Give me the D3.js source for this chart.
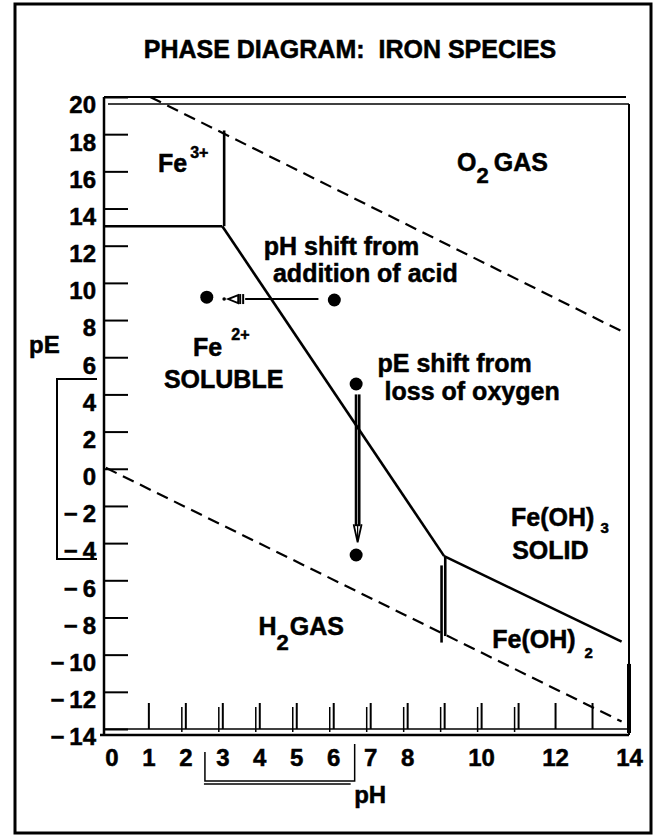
<!DOCTYPE html>
<html>
<head>
<meta charset="utf-8">
<script src="https://cdn.jsdelivr.net/npm/d3@7"></script>
<style>
  html, body { margin: 0; padding: 0; background: #fff; }
  svg { display: block; }
  text { font-family: "Liberation Sans", Arial, Helvetica, sans-serif; font-weight: bold; fill: #000;
         stroke: #000; stroke-width: 0.5px; }
</style>
</head>
<body>
<svg id="chart"></svg>
<script>
const WIDTH = 654;
const HEIGHT = 837;

// axis ticks and labels
const pETicks = d3.range(-14, 21, 2);
const pHTickMarks = d3.range(1, 14);
const pHDoubleTicks = d3.range(2, 12);
const pHLabels = [0, 1, 2, 3, 4, 5, 6, 7, 8, 10, 12, 14];

// phase boundaries, [pH, pE] pairs
const o2Line = [[1.05, 20], [13.8, 7.4]];
const h2Line = [[-0.15, 0.05], [13.8, -13.6]];
const fe3Horizontal = [[-0.2, 13.05], [3.0, 13.05]];
const fe3Vertical = [[3.05, 18.2], [3.05, 13.05]];
const fe2Diagonal = [[3.0, 13.05], [9.0, -4.7]];
const hydroxideLine = [[9.0, -4.7], [13.8, -9.3]];
const fe2VerticalA = [[8.93, -5.2], [8.93, -9.35]];
const fe2VerticalB = [[9.03, -4.7], [9.03, -9.0]];

// shift examples
const shiftPoints = [[6.03, 9.08], [2.58, 9.23], [6.62, 4.56], [6.62, -4.64]];
const pHShift = { from: [5.6, 9.13], to: [3.05, 9.13] };
const pEShift = { from: [6.66, 4.0], to: [6.66, -3.95] };
const pEBracket = [4.83, -4.85];
const pHBracket = [2.53, 6.58];

// region labels: anchor [pH, pE], main text, small script
const regionLabels = [
  { id: "fe3", pH: 1.26, pE: 15.97, text: "Fe", script: "3+" },
  { id: "o2", pH: 9.35, pE: 16.0, text: "O", script: "2", tail: "GAS" },
  { id: "acid1", pH: 4.12, pE: 11.5, text: "pH shift from" },
  { id: "acid2", pH: 4.37, pE: 10.05, text: "addition of acid" },
  { id: "fe2", pH: 2.21, pE: 6.07, text: "Fe", script: "2+" },
  { id: "sol", pH: 1.42, pE: 4.35, text: "SOLUBLE" },
  { id: "ox1", pH: 7.2, pE: 5.21, text: "pE shift from" },
  { id: "ox2", pH: 7.39, pE: 3.7, text: "loss of oxygen" },
  { id: "oh3", pH: 10.81, pE: -3.08, text: "Fe(OH)", script: "3" },
  { id: "solid", pH: 10.84, pE: -4.85, text: "SOLID" },
  { id: "h2", pH: 3.98, pE: -8.94, text: "H", script: "2", tail: "GAS" },
  { id: "oh2", pH: 10.3, pE: -9.64, text: "Fe(OH)", script: "2" }
];

// script offsets (size, dx, dy) per label, and gap before the tail text
const SCRIPT_STYLE = {
  fe3: [16, 3, -14], o2: [22, 0, 12], fe2: [16, 9, -16],
  oh3: [15, 6, 7], h2: [22, 0, 15], oh2: [15, 9, 10]
};
const TAIL_GAP = { o2: 5, h2: 1 };

const svg = d3.select("#chart").attr("width", WIDTH).attr("height", HEIGHT);
svg.append("rect").attr("width", WIDTH).attr("height", HEIGHT).attr("fill", "#fff");

const x = d3.scaleLinear().domain([-0.2, 14]).range([104, 629]);
const y = d3.scaleLinear().domain([-14, 20]).range([729, 97]);
const line = d3.line().x(d => x(d[0])).y(d => y(d[1]));

// outer frame
svg.append("rect").attr("x", 15).attr("y", 4).attr("width", 636).attr("height", 829)
  .attr("fill", "none").attr("stroke", "#000").attr("stroke-width", 3);

// title
svg.append("text").attr("x", 350).attr("y", 58).attr("text-anchor", "middle")
  .style("font-size", "25px").style("white-space", "pre")
  .text("PHASE DIAGRAM:  IRON SPECIES");

// plot frame
const x0 = x(-0.2), x1 = x(14), yTop = y(20), yBot = y(-14);
const frame = svg.append("g").attr("stroke", "#000").attr("fill", "none");
frame.append("line").attr("x1", x0).attr("x2", x1 - 3).attr("y1", yTop).attr("y2", yTop).attr("stroke-width", 2);
frame.append("line").attr("x1", x0 + 4).attr("x2", x1).attr("y1", yTop + 7).attr("y2", yTop + 7).attr("stroke-width", 1.5);
frame.append("line").attr("x1", x1).attr("x2", x1).attr("y1", yTop + 7).attr("y2", yBot + 6).attr("stroke-width", 2);
frame.append("line").attr("x1", x1).attr("x2", x1).attr("y1", y(-10.5)).attr("y2", yBot + 4).attr("stroke-width", 4);
frame.append("line").attr("x1", x0).attr("x2", x0).attr("y1", yTop).attr("y2", yBot + 6).attr("stroke-width", 2.5);
frame.append("line").attr("x1", x0).attr("x2", x1).attr("y1", yBot).attr("y2", yBot).attr("stroke-width", 1.5);
frame.append("line").attr("x1", x0 - 4).attr("x2", x1).attr("y1", yBot + 6).attr("y2", yBot + 6).attr("stroke-width", 2.5);

// y axis: ticks point inward, labels outside
const fmt = d => d < 0 ? "\u2212\u2009" + Math.abs(d) : String(d);
const yAxis = svg.append("g").attr("transform", `translate(${x0},0)`)
  .call(d3.axisLeft(y).tickValues(pETicks).tickSizeInner(-24).tickSizeOuter(0).tickPadding(8).tickFormat(fmt));
yAxis.select(".domain").remove();
yAxis.selectAll("line").attr("stroke", "#000").attr("stroke-width", 2);
yAxis.selectAll("text").attr("dy", "0.66em").style("font-size", "24px")
  .attr("font-family", null).attr("fill", "#000");

// x axis: tick marks upward
const xTicks = svg.append("g").attr("transform", `translate(0,${yBot})`)
  .call(d3.axisBottom(x).tickValues(pHTickMarks).tickSizeInner(-26).tickSizeOuter(0).tickFormat(""));
xTicks.select(".domain").remove();
xTicks.selectAll("line").attr("stroke", "#000").attr("stroke-width", 2);
svg.append("g").selectAll("line").data(pHDoubleTicks).join("line")
  .attr("x1", d => x(d) - 3.5).attr("x2", d => x(d) - 3.5)
  .attr("y1", yBot + 3).attr("y2", yBot - 22)
  .attr("stroke", "#000").attr("stroke-width", 1.5);

const xLabels = svg.append("g").attr("transform", `translate(0,${yBot})`)
  .call(d3.axisBottom(x).tickValues(pHLabels).tickSize(0).tickPadding(20).tickFormat(d => d));
xLabels.select(".domain").remove();
xLabels.selectAll("text").style("font-size", "24px").attr("font-family", null).attr("fill", "#000");

// axis titles
svg.append("text").attr("x", 29).attr("y", 353).style("font-size", "24px").text("pE");
svg.append("text").attr("x", x(7)).attr("y", 803).attr("text-anchor", "middle").style("font-size", "24px").text("pH");

// brackets marking the shifts on the axes
svg.append("path")
  .attr("d", `M97,${y(pEBracket[0])}H57V${y(pEBracket[1])}H97`)
  .attr("fill", "none").attr("stroke", "#000").attr("stroke-width", 2);
const bx0 = x(pHBracket[0]), bx1 = x(pHBracket[1]);
svg.append("path")
  .attr("d", `M${bx0},752V781H${bx1}V744M${bx0 - 1},784H${bx1 - 4}`)
  .attr("fill", "none").attr("stroke", "#000").attr("stroke-width", 1.5);

// boundaries
const bounds = svg.append("g").attr("fill", "none").attr("stroke", "#000");
[o2Line, h2Line].forEach(l => bounds.append("path").attr("d", line(l))
  .attr("stroke-width", 2.2).attr("stroke-dasharray", "12,7"));
[fe3Horizontal, fe3Vertical, fe2Diagonal, hydroxideLine, fe2VerticalA, fe2VerticalB]
  .forEach(l => bounds.append("path").attr("d", line(l)).attr("stroke-width", 2.6));

// shift points
svg.append("g").selectAll("circle").data(shiftPoints).join("circle")
  .attr("cx", d => x(d[0])).attr("cy", d => y(d[1])).attr("r", 6.5).attr("fill", "#000");

// pH shift arrow (pointing left)
const ha = svg.append("g").attr("stroke", "#000").attr("fill", "none");
const hy = y(pHShift.to[1]), tipX = x(pHShift.to[0]);
ha.append("line").attr("x1", x(pHShift.from[0])).attr("x2", tipX + 21).attr("y1", hy).attr("y2", hy).attr("stroke-width", 2);
[19, 16].forEach(o => ha.append("line").attr("x1", tipX + o).attr("x2", tipX + o)
  .attr("y1", hy - 5).attr("y2", hy + 5).attr("stroke-width", 2));
ha.append("path").attr("d", `M${tipX + 14},${hy - 4}L${tipX + 4},${hy}L${tipX + 14},${hy + 4}Z`).attr("stroke-width", 1.8);
ha.append("circle").attr("cx", tipX).attr("cy", hy).attr("r", 1.8).attr("fill", "#000").attr("stroke", "none");

// pE shift arrow (pointing down), heavy double shaft
const va = svg.append("g").attr("stroke", "#000").attr("fill", "none");
const vx = x(pEShift.from[0]), tipY = y(pEShift.to[1]);
[-1.6, 1.6].forEach(o => va.append("line").attr("x1", vx + o).attr("x2", vx + o)
  .attr("y1", y(pEShift.from[1])).attr("y2", tipY - 16).attr("stroke-width", 2.6));
va.append("path").attr("d", `M${vx - 4},${tipY - 18}L${vx},${tipY}L${vx + 4},${tipY - 18}`).attr("stroke-width", 1.8);
va.append("line").attr("x1", vx).attr("x2", vx).attr("y1", tipY - 18).attr("y2", tipY - 3).attr("stroke-width", 1.2);

// region labels
const lbl = svg.append("g").selectAll("text").data(regionLabels).join("text")
  .attr("x", d => x(d.pH)).attr("y", d => y(d.pE)).style("font-size", "25px");
lbl.append("tspan").text(d => d.text);
lbl.filter(d => d.script).append("tspan")
  .style("font-size", d => SCRIPT_STYLE[d.id][0] + "px")
  .attr("dx", d => SCRIPT_STYLE[d.id][1]).attr("dy", d => SCRIPT_STYLE[d.id][2])
  .text(d => d.script);
lbl.filter(d => d.tail).append("tspan")
  .attr("dx", d => TAIL_GAP[d.id]).attr("dy", d => -SCRIPT_STYLE[d.id][2])
  .text(d => d.tail);
</script>
</body>
</html>
